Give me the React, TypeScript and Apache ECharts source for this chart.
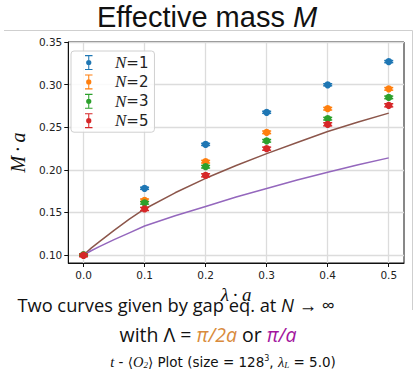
import React, { useEffect, useRef } from "react";
import * as echarts from "echarts";

const lambdas = [0, 0.1, 0.2, 0.3, 0.4, 0.5];
const seriesNames = ["N=1", "N=2", "N=3", "N=5"];
const massN1 = [0.1, 0.1783, 0.2298, 0.2675, 0.2998, 0.327];
const massN2 = [0.1, 0.1642, 0.2095, 0.2440, 0.2717, 0.2950];
const massN3 = [0.1, 0.1612, 0.2036, 0.2340, 0.2600, 0.2850];
const massN5 = [0.0995, 0.1540, 0.1935, 0.2248, 0.2534, 0.2757];
const errN1 = [0.001, 0.0012, 0.0012, 0.0012, 0.0012, 0.0012];
const errN2 = [0.001, 0.0015, 0.0015, 0.0015, 0.0015, 0.0015];
const errN3 = [0.001, 0.0015, 0.0015, 0.0015, 0.0015, 0.0015];
const errN5 = [0.0015, 0.0018, 0.0018, 0.0018, 0.0018, 0.0018];

const curveX = [0, 0.0125, 0.025, 0.05, 0.075, 0.1, 0.15, 0.2, 0.25, 0.3, 0.35, 0.4, 0.45, 0.5];
const curveHalfCutoff = [0.1, 0.108, 0.115, 0.129, 0.142, 0.154, 0.173, 0.19, 0.205, 0.219, 0.232, 0.245, 0.256, 0.2665];
const curveFullCutoff = [0.1, 0.105, 0.1095, 0.118, 0.126, 0.134, 0.146, 0.157, 0.168, 0.178, 0.188, 0.197, 0.206, 0.214];

const xTicks = [0, 0.1, 0.2, 0.3, 0.4, 0.5];
const yTicks = [0.1, 0.15, 0.2, 0.25, 0.3, 0.35];

const colors = ["#1f77b4", "#ff7f0e", "#2ca02c", "#d62728"];
const errIcon =
  "path://M2,0H12V1.5H2Z M2,18.5H12V20H2Z M6.3,0H7.7V20H6.3Z M3.5,10A3.5,3.5 0 1 1 10.5,10A3.5,3.5 0 1 1 3.5,10Z";

export default function App() {
  const ref = useRef<HTMLDivElement>(null);
  useEffect(() => {
    const chart = echarts.init(ref.current!, undefined, { renderer: "svg" });
    const masses = [massN1, massN2, massN3, massN5];
    const errs = [errN1, errN2, errN3, errN5];
    const errSeries = seriesNames.map((name, si) => ({
      name,
      type: "custom",
      z: 5 + si,
      itemStyle: { color: colors[si] },
      data: lambdas.map((x, i) => [x, masses[si][i], errs[si][i]]),
      renderItem: (params: any, api: any) => {
        const x = api.value(0);
        const y = api.value(1);
        const e = api.value(2);
        const p = api.coord([x, y]);
        const top = api.coord([x, y + e]);
        const bot = api.coord([x, y - e]);
        const c = api.visual("color");
        const ls = { stroke: c, lineWidth: 1.5 };
        return {
          type: "group",
          children: [
            { type: "line", shape: { x1: p[0], y1: top[1], x2: p[0], y2: bot[1] }, style: ls },
            { type: "line", shape: { x1: p[0] - 4.5, y1: top[1], x2: p[0] + 4.5, y2: top[1] }, style: ls },
            { type: "line", shape: { x1: p[0] - 4.5, y1: bot[1], x2: p[0] + 4.5, y2: bot[1] }, style: ls },
            { type: "circle", shape: { cx: p[0], cy: p[1], r: 3.6 }, style: { fill: c } },
          ],
        };
      },
    }));
    const legendRich = {
      i: { fontFamily: "Liberation Serif", fontStyle: "italic", fontSize: 17, color: "#222", lineHeight: 16 },
      n: { fontFamily: "DejaVu Sans", fontSize: 15, color: "#222", lineHeight: 16 },
    };
    chart.setOption({
      animation: false,
      grid: {
        left: 62,
        right: 13,
        top: 42,
        bottom: 111,
        show: true,
        borderColor: "#111",
        borderWidth: 1,
      },
      xAxis: {
        type: "value",
        min: -0.025,
        max: 0.525,
        name: "{l|λ} {d|·} {l|a}",
        nameLocation: "middle",
        nameGap: 13,
        nameTextStyle: {
          rich: {
            l: { fontFamily: "Liberation Serif", fontStyle: "italic", fontSize: 19, color: "#111", lineHeight: 14 },
            d: { fontFamily: "Liberation Serif", fontSize: 19, color: "#111", lineHeight: 14 },
          },
        },
        axisLine: { show: true, onZero: false, lineStyle: { color: "#111" } },
        axisTick: { show: true, length: 4, customValues: xTicks, lineStyle: { color: "#111" } },
        axisLabel: {
          customValues: xTicks,
          formatter: (v: number) => v.toFixed(1),
          color: "#222",
          fontFamily: "DejaVu Sans",
          fontSize: 10.5,
          margin: 6,
        },
        splitLine: { show: true, lineStyle: { color: "#dcdcdc", width: 1.3 } },
      },
      yAxis: {
        type: "value",
        min: 0.0906,
        max: 0.35,
        name: "{l|M} {d|·} {l|a}",
        nameLocation: "middle",
        nameGap: 36,
        nameRotate: 90,
        nameTextStyle: {
          rich: {
            l: { fontFamily: "Liberation Serif", fontStyle: "italic", fontSize: 20, color: "#111" },
            d: { fontFamily: "Liberation Serif", fontSize: 20, color: "#111" },
          },
        },
        axisLine: { show: true, onZero: false, lineStyle: { color: "#111" } },
        axisTick: { show: true, length: 4, customValues: yTicks, lineStyle: { color: "#111" } },
        axisLabel: {
          customValues: yTicks,
          formatter: (v: number) => v.toFixed(2),
          color: "#222",
          fontFamily: "DejaVu Sans",
          fontSize: 10.5,
          margin: 6,
        },
        splitLine: { show: true, lineStyle: { color: "#dcdcdc", width: 1.3 } },
      },
      legend: {
        orient: "vertical",
        left: 71,
        top: 51,
        data: seriesNames.map((n) => ({ name: n, icon: errIcon })),
        itemWidth: 10.5,
        itemHeight: 15,
        itemGap: 2.4,
        padding: [3, 6, 3, 14],
        backgroundColor: "rgba(255,255,255,0.85)",
        borderColor: "#d0d0d0",
        borderWidth: 1,
        borderRadius: 3,
        formatter: (n: string) => "{i|N}{n|" + n.slice(1) + "}",
        textStyle: { rich: legendRich, padding: [0, 0, 0, 16] },
      },
      graphic: [
        {
          type: "line",
          shape: { x1: 4, y1: 30.5, x2: 412.5, y2: 30.5 },
          style: { stroke: "#cfcfcf", lineWidth: 1 },
        },
        {
          type: "line",
          shape: { x1: 412.5, y1: 30.5, x2: 412.5, y2: 310 },
          style: { stroke: "#cfcfcf", lineWidth: 1 },
        },
        {
          type: "text",
          x: 207,
          y: 17,
          style: {
            text: "{r|Effective mass }{m|M}",
            align: "center",
            verticalAlign: "middle",
            rich: {
              r: { fontFamily: "Liberation Sans", fontSize: 29, fill: "#111", lineHeight: 30 },
              m: { fontFamily: "Liberation Sans", fontStyle: "italic", fontSize: 29, fill: "#111", lineHeight: 30 },
            },
          },
        },
        {
          type: "text",
          x: 176,
          y: 304,
          style: {
            text: "{r|Two curves given by gap eq. at }{m|N}{r| → ∞}",
            align: "center",
            verticalAlign: "middle",
            rich: {
              r: { fontFamily: "Open Sans", fontSize: 18.3, fill: "#111", lineHeight: 18 },
              m: { fontFamily: "Open Sans", fontStyle: "italic", fontSize: 18.3, fill: "#111", lineHeight: 18 },
            },
          },
        },
        {
          type: "text",
          x: 208,
          y: 334,
          style: {
            text: "{r|with Λ = }{o|π/2a}{r| or }{p|π/a}",
            align: "center",
            verticalAlign: "middle",
            rich: {
              r: { fontFamily: "Open Sans", fontSize: 19.5, fill: "#111" },
              o: { fontFamily: "Open Sans", fontStyle: "italic", fontSize: 19.5, fill: "#d98b3c" },
              p: { fontFamily: "Open Sans", fontStyle: "italic", fontSize: 19.5, fill: "#a3159e" },
            },
          },
        },
        {
          type: "text",
          x: 223,
          y: 362,
          style: {
            text: "{i|t}{r| - ⟨}{i|O}{s|2}{r|⟩ Plot (size = 128}{u|3}{r|, }{i|λ}{s|L}{r| = 5.0)}",
            align: "center",
            verticalAlign: "middle",
            rich: {
              r: { fontFamily: "DejaVu Sans", fontSize: 13.5, fill: "#111" },
              i: { fontFamily: "Liberation Serif", fontStyle: "italic", fontSize: 14.5, fill: "#111" },
              s: { fontFamily: "Liberation Serif", fontStyle: "italic", fontSize: 9, fill: "#111", verticalAlign: "bottom" },
              u: { fontFamily: "DejaVu Sans", fontSize: 8, fill: "#111", verticalAlign: "top" },
            },
          },
        },
      ],
      series: [
        {
          name: "gap π/2a",
          type: "line",
          showSymbol: false,
          z: 2,
          data: curveX.map((x, i) => [x, curveHalfCutoff[i]]),
          lineStyle: { color: "#8c564b", width: 1.5 },
          itemStyle: { color: "#8c564b" },
        },
        {
          name: "gap π/a",
          type: "line",
          showSymbol: false,
          z: 2,
          data: curveX.map((x, i) => [x, curveFullCutoff[i]]),
          lineStyle: { color: "#9467bd", width: 1.5 },
          itemStyle: { color: "#9467bd" },
        },
        ...errSeries,
      ],
    });
    return () => chart.dispose();
  }, []);
  return <div ref={ref} style={{ width: 417, height: 374, position: "absolute", left: 0, top: 0 }} />;
}
